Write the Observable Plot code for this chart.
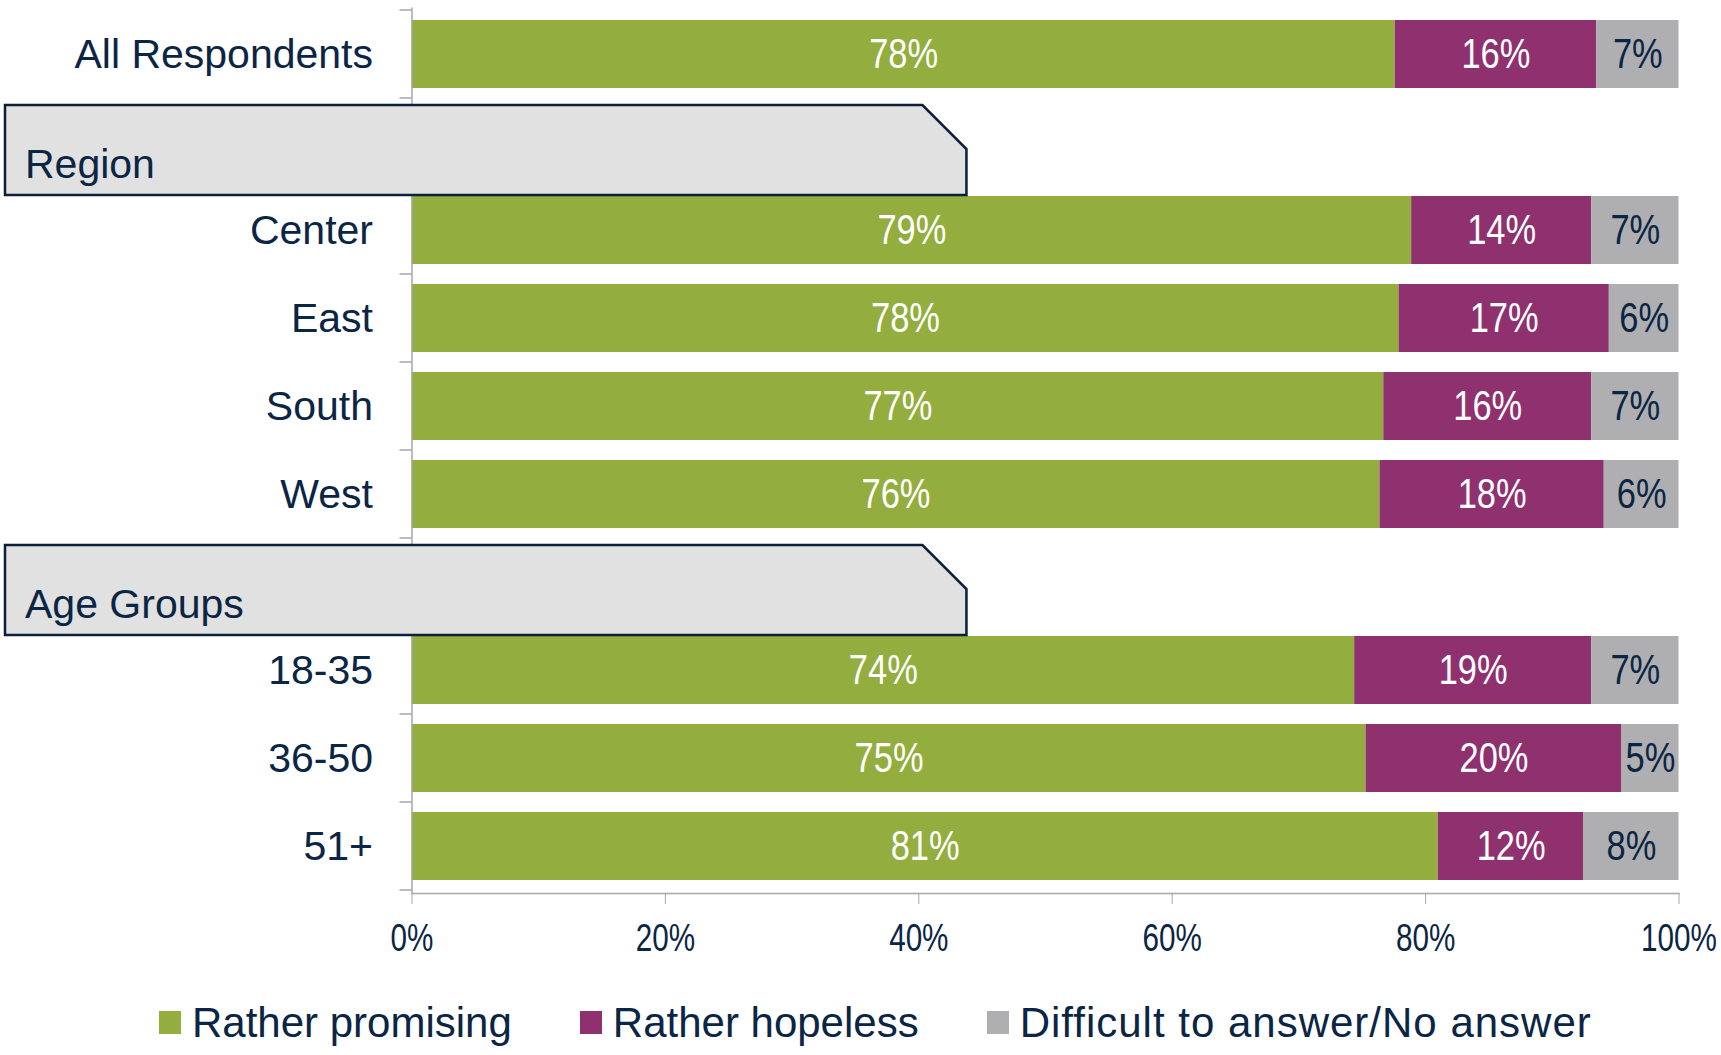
<!DOCTYPE html>
<html>
<head>
<meta charset="utf-8">
<script src="https://cdn.jsdelivr.net/npm/d3@7"></script>
<script src="https://cdn.jsdelivr.net/npm/@observablehq/plot@0.6"></script>
<style>
  html, body { margin: 0; padding: 0; background: #ffffff; }
  #chart svg { display: block; }
  #legend { display: flex; align-items: center; height: 65px; padding-left: 159px; gap: 68px;
            font-family: 'Liberation Sans', Arial, sans-serif; font-size: 42px; color: #0b2545; }
  #legend .item { display: flex; align-items: center; gap: 11px; white-space: nowrap; }
  #legend .item:last-child span:last-child { letter-spacing: 1px; }
  #legend .sw { width: 22px; height: 23px; display: inline-block; }
</style>
</head>
<body>
<div id="chart"></div>
<div id="legend"></div>
<script>
// ---------- data ----------
const rows = ["All Respondents", "Region", "Center", "East", "South", "West", "Age Groups", "18-35", "36-50", "51+"];
const headerRows = ["Region", "Age Groups"];
const barRows = ["All Respondents", "Center", "East", "South", "West", "18-35", "36-50", "51+"];
const promising = [77.6, 78.9, 77.9, 76.7, 76.4, 74.4, 75.3, 81.0];
const hopeless  = [15.9, 14.2, 16.6, 16.4, 17.7, 18.7, 20.2, 11.5];
const noAnswer  = [6.5, 6.9, 5.5, 6.9, 5.9, 6.9, 4.5, 7.5];
const seriesNames = ["Rather promising", "Rather hopeless", "Difficult to answer/No answer"];
const seriesColors = ["#93ae3e", "#90316f", "#afafb1"];
const xTicks = [0, 20, 40, 60, 80, 100];

// ---------- build table ----------
const seriesValues = [promising, hopeless, noAnswer];
const data = [];
barRows.forEach((r, i) => seriesNames.forEach((s, j) => data.push({row: r, series: s, value: seriesValues[j][i]})));

const navy = "#0b2545";
const axisGray = "#a6a6a6";
const font = "'Liberation Sans', Arial, sans-serif";

const W = 1721, H = 990, axisY = 893;
const label = d => Math.round(d.value) + "%";

const plot = Plot.plot({
  width: W, height: H,
  marginLeft: 411.5, marginRight: 42.5, marginTop: 7.5, marginBottom: H - axisY,
  style: {fontFamily: font, color: navy, background: "#ffffff", overflow: "visible"},
  x: {domain: [0, 100]},
  y: {domain: rows, paddingInner: 0.23, paddingOuter: 0.12},
  color: {domain: seriesNames, range: seriesColors},
  marks: [
    Plot.barX(data, Plot.stackX({x: "value", y: "row", fill: "series", order: seriesNames})),
    Plot.text(data, Plot.stackX({x: "value", y: "row", z: "series", order: seriesNames,
      text: d => d.series === seriesNames[2] ? "" : label(d),
      fill: "white", fontSize: 42})),
    Plot.text(data, Plot.stackX({x: "value", y: "row", z: "series", order: seriesNames,
      text: d => d.series === seriesNames[2] ? label(d) : "",
      fill: navy, fontSize: 42})),
    Plot.ruleX([0], {stroke: axisGray, strokeWidth: 1.5}),
    Plot.frame({anchor: "bottom", stroke: axisGray, strokeWidth: 1.5}),
    Plot.axisX({ticks: xTicks, tickFormat: d => d + "%", tickSize: 11, tickPadding: 20,
      stroke: axisGray, fill: navy, fontSize: 38, label: null}),
    Plot.axisY({tickSize: 0, tickPadding: 39, fill: navy, fontSize: 41, label: null,
      tickFormat: d => headerRows.includes(d) ? "" : d})
  ]
});
document.getElementById("chart").appendChild(plot);
const svg = d3.select(plot);

// condense numeric labels horizontally (the original uses a narrow face)
function condense(sel, f) {
  sel.each(function () {
    const len = this.getComputedTextLength();
    if (len > 0) { this.setAttribute("textLength", len * f); this.setAttribute("lengthAdjust", "spacingAndGlyphs"); }
  });
}
condense(svg.selectAll('g[aria-label="text"] text'), 0.82);
condense(svg.selectAll('g[aria-label="x-axis tick label"] text'), 0.78);

// ---------- y-axis boundary ticks and group header boxes (from the y scale) ----------
const ys = plot.scale("y"), xs = plot.scale("x");
const bw = ys.bandwidth, step = ys.step, gap = step - bw;
const xAxisPos = xs.apply(0);
const bounds = rows.map(r => ys.apply(r) - gap / 2);
bounds.push(ys.apply(rows[rows.length - 1]) + bw + gap / 2);
svg.append("g").selectAll("line").data(bounds).join("line")
  .attr("x1", xAxisPos - 12).attr("x2", xAxisPos)
  .attr("y1", d => d).attr("y2", d => d)
  .attr("stroke", axisGray).attr("stroke-width", 1.5);

const hdr = svg.append("g");
headerRows.forEach(h => {
  const i = rows.indexOf(h);
  const top = ys.apply(rows[i - 1]) + bw + 17, bottom = ys.apply(rows[i + 1]) - 1;
  const left = 5, right = xs.apply(43.8), cut = 44;
  hdr.append("path")
    .attr("d", `M${left},${top}H${right - cut}L${right},${top + cut}V${bottom}H${left}Z`)
    .attr("fill", "#e1e1e1").attr("stroke", "#0b1f3a").attr("stroke-width", 2.5);
  hdr.append("text").attr("x", 25).attr("y", bottom - 17)
    .attr("text-anchor", "start")
    .attr("fill", navy).attr("font-size", 41)
    .attr("font-family", font).text(h);
});

// ---------- legend ----------
const leg = d3.select("#legend");
seriesNames.forEach((s, i) => {
  const it = leg.append("div").attr("class", "item");
  it.append("span").attr("class", "sw").style("background", seriesColors[i]);
  it.append("span").text(s);
});
</script>
</body>
</html>
